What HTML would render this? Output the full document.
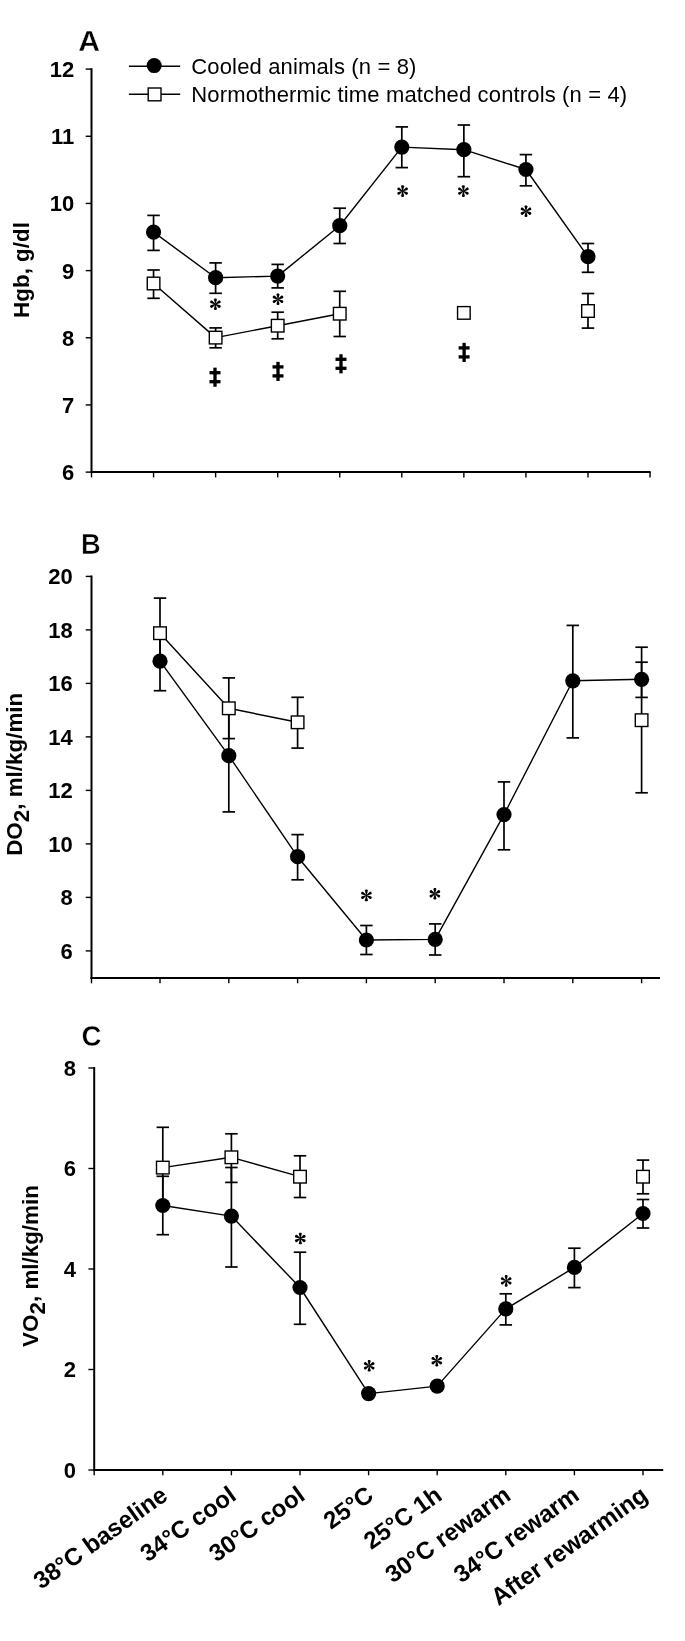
<!DOCTYPE html>
<html>
<head>
<meta charset="utf-8">
<title>Figure</title>
<style>
html, body { margin: 0; padding: 0; background: #ffffff; }
body { width: 685px; height: 1641px; overflow: hidden; font-family: "Liberation Sans", sans-serif; }
svg { display: block; will-change: transform; }
</style>
</head>
<body>
<svg width="685" height="1641" viewBox="0 0 685 1641">
<rect x="0" y="0" width="685" height="1641" fill="#ffffff"/>
<line x1="91.50" y1="68.20" x2="91.50" y2="473.10" stroke="#000" stroke-width="2" />
<line x1="90.50" y1="472.10" x2="650.70" y2="472.10" stroke="#000" stroke-width="2" />
<line x1="85.70" y1="69.10" x2="91.50" y2="69.10" stroke="#000" stroke-width="1.4" />
<text x="74.30" y="77.00" font-family="'Liberation Sans', sans-serif" font-size="22" font-weight="bold" text-anchor="end" fill="#000" >12</text>
<line x1="85.70" y1="136.27" x2="91.50" y2="136.27" stroke="#000" stroke-width="1.4" />
<text x="74.30" y="144.17" font-family="'Liberation Sans', sans-serif" font-size="22" font-weight="bold" text-anchor="end" fill="#000" >11</text>
<line x1="85.70" y1="203.44" x2="91.50" y2="203.44" stroke="#000" stroke-width="1.4" />
<text x="74.30" y="211.34" font-family="'Liberation Sans', sans-serif" font-size="22" font-weight="bold" text-anchor="end" fill="#000" >10</text>
<line x1="85.70" y1="270.61" x2="91.50" y2="270.61" stroke="#000" stroke-width="1.4" />
<text x="74.30" y="278.51" font-family="'Liberation Sans', sans-serif" font-size="22" font-weight="bold" text-anchor="end" fill="#000" >9</text>
<line x1="85.70" y1="337.78" x2="91.50" y2="337.78" stroke="#000" stroke-width="1.4" />
<text x="74.30" y="345.68" font-family="'Liberation Sans', sans-serif" font-size="22" font-weight="bold" text-anchor="end" fill="#000" >8</text>
<line x1="85.70" y1="404.95" x2="91.50" y2="404.95" stroke="#000" stroke-width="1.4" />
<text x="74.30" y="412.85" font-family="'Liberation Sans', sans-serif" font-size="22" font-weight="bold" text-anchor="end" fill="#000" >7</text>
<line x1="85.70" y1="472.12" x2="91.50" y2="472.12" stroke="#000" stroke-width="1.4" />
<text x="74.30" y="480.02" font-family="'Liberation Sans', sans-serif" font-size="22" font-weight="bold" text-anchor="end" fill="#000" >6</text>
<line x1="91.50" y1="472.10" x2="91.50" y2="477.40" stroke="#000" stroke-width="1.4" />
<line x1="153.56" y1="472.10" x2="153.56" y2="477.40" stroke="#000" stroke-width="1.4" />
<line x1="215.62" y1="472.10" x2="215.62" y2="477.40" stroke="#000" stroke-width="1.4" />
<line x1="277.68" y1="472.10" x2="277.68" y2="477.40" stroke="#000" stroke-width="1.4" />
<line x1="339.74" y1="472.10" x2="339.74" y2="477.40" stroke="#000" stroke-width="1.4" />
<line x1="401.80" y1="472.10" x2="401.80" y2="477.40" stroke="#000" stroke-width="1.4" />
<line x1="463.86" y1="472.10" x2="463.86" y2="477.40" stroke="#000" stroke-width="1.4" />
<line x1="525.92" y1="472.10" x2="525.92" y2="477.40" stroke="#000" stroke-width="1.4" />
<line x1="587.98" y1="472.10" x2="587.98" y2="477.40" stroke="#000" stroke-width="1.4" />
<line x1="650.04" y1="472.10" x2="650.04" y2="477.40" stroke="#000" stroke-width="1.4" />
<polyline points="153.56,232.10 215.62,277.70 277.68,276.10 339.74,225.70 401.80,147.10 463.86,149.70 525.92,169.50 587.98,256.70" fill="none" stroke="#000" stroke-width="1.4" stroke-linejoin="round"/>
<polyline points="153.56,283.50 215.62,337.60 277.68,325.70 339.74,313.70" fill="none" stroke="#000" stroke-width="1.4" stroke-linejoin="round"/>
<line x1="153.56" y1="215.40" x2="153.56" y2="250.40" stroke="#000" stroke-width="1.7" />
<line x1="147.31" y1="215.40" x2="159.81" y2="215.40" stroke="#000" stroke-width="1.7" />
<line x1="147.31" y1="250.40" x2="159.81" y2="250.40" stroke="#000" stroke-width="1.7" />
<line x1="215.62" y1="262.90" x2="215.62" y2="293.30" stroke="#000" stroke-width="1.7" />
<line x1="209.37" y1="262.90" x2="221.87" y2="262.90" stroke="#000" stroke-width="1.7" />
<line x1="209.37" y1="293.30" x2="221.87" y2="293.30" stroke="#000" stroke-width="1.7" />
<line x1="277.68" y1="264.40" x2="277.68" y2="287.90" stroke="#000" stroke-width="1.7" />
<line x1="271.43" y1="264.40" x2="283.93" y2="264.40" stroke="#000" stroke-width="1.7" />
<line x1="271.43" y1="287.90" x2="283.93" y2="287.90" stroke="#000" stroke-width="1.7" />
<line x1="339.74" y1="208.20" x2="339.74" y2="243.50" stroke="#000" stroke-width="1.7" />
<line x1="333.49" y1="208.20" x2="345.99" y2="208.20" stroke="#000" stroke-width="1.7" />
<line x1="333.49" y1="243.50" x2="345.99" y2="243.50" stroke="#000" stroke-width="1.7" />
<line x1="401.80" y1="126.90" x2="401.80" y2="167.60" stroke="#000" stroke-width="1.7" />
<line x1="395.55" y1="126.90" x2="408.05" y2="126.90" stroke="#000" stroke-width="1.7" />
<line x1="395.55" y1="167.60" x2="408.05" y2="167.60" stroke="#000" stroke-width="1.7" />
<line x1="463.86" y1="125.00" x2="463.86" y2="176.70" stroke="#000" stroke-width="1.7" />
<line x1="457.61" y1="125.00" x2="470.11" y2="125.00" stroke="#000" stroke-width="1.7" />
<line x1="457.61" y1="176.70" x2="470.11" y2="176.70" stroke="#000" stroke-width="1.7" />
<line x1="525.92" y1="154.60" x2="525.92" y2="185.80" stroke="#000" stroke-width="1.7" />
<line x1="519.67" y1="154.60" x2="532.17" y2="154.60" stroke="#000" stroke-width="1.7" />
<line x1="519.67" y1="185.80" x2="532.17" y2="185.80" stroke="#000" stroke-width="1.7" />
<line x1="587.98" y1="243.50" x2="587.98" y2="272.30" stroke="#000" stroke-width="1.7" />
<line x1="581.73" y1="243.50" x2="594.23" y2="243.50" stroke="#000" stroke-width="1.7" />
<line x1="581.73" y1="272.30" x2="594.23" y2="272.30" stroke="#000" stroke-width="1.7" />
<line x1="153.56" y1="270.00" x2="153.56" y2="298.30" stroke="#000" stroke-width="1.7" />
<line x1="147.31" y1="270.00" x2="159.81" y2="270.00" stroke="#000" stroke-width="1.7" />
<line x1="147.31" y1="298.30" x2="159.81" y2="298.30" stroke="#000" stroke-width="1.7" />
<line x1="215.62" y1="327.90" x2="215.62" y2="347.80" stroke="#000" stroke-width="1.7" />
<line x1="209.37" y1="327.90" x2="221.87" y2="327.90" stroke="#000" stroke-width="1.7" />
<line x1="209.37" y1="347.80" x2="221.87" y2="347.80" stroke="#000" stroke-width="1.7" />
<line x1="277.68" y1="312.20" x2="277.68" y2="338.80" stroke="#000" stroke-width="1.7" />
<line x1="271.43" y1="312.20" x2="283.93" y2="312.20" stroke="#000" stroke-width="1.7" />
<line x1="271.43" y1="338.80" x2="283.93" y2="338.80" stroke="#000" stroke-width="1.7" />
<line x1="339.74" y1="291.30" x2="339.74" y2="336.50" stroke="#000" stroke-width="1.7" />
<line x1="333.49" y1="291.30" x2="345.99" y2="291.30" stroke="#000" stroke-width="1.7" />
<line x1="333.49" y1="336.50" x2="345.99" y2="336.50" stroke="#000" stroke-width="1.7" />
<line x1="587.98" y1="293.50" x2="587.98" y2="328.10" stroke="#000" stroke-width="1.7" />
<line x1="581.73" y1="293.50" x2="594.23" y2="293.50" stroke="#000" stroke-width="1.7" />
<line x1="581.73" y1="328.10" x2="594.23" y2="328.10" stroke="#000" stroke-width="1.7" />
<circle cx="153.56" cy="232.10" r="7.6" fill="#000"/>
<circle cx="215.62" cy="277.70" r="7.6" fill="#000"/>
<circle cx="277.68" cy="276.10" r="7.6" fill="#000"/>
<circle cx="339.74" cy="225.70" r="7.6" fill="#000"/>
<circle cx="401.80" cy="147.10" r="7.6" fill="#000"/>
<circle cx="463.86" cy="149.70" r="7.6" fill="#000"/>
<circle cx="525.92" cy="169.50" r="7.6" fill="#000"/>
<circle cx="587.98" cy="256.70" r="7.6" fill="#000"/>
<rect x="147.26" y="277.20" width="12.6" height="12.6" fill="#fff" stroke="#000" stroke-width="1.4"/>
<rect x="209.32" y="331.30" width="12.6" height="12.6" fill="#fff" stroke="#000" stroke-width="1.4"/>
<rect x="271.38" y="319.40" width="12.6" height="12.6" fill="#fff" stroke="#000" stroke-width="1.4"/>
<rect x="333.44" y="307.40" width="12.6" height="12.6" fill="#fff" stroke="#000" stroke-width="1.4"/>
<rect x="457.56" y="306.60" width="12.6" height="12.6" fill="#fff" stroke="#000" stroke-width="1.4"/>
<rect x="581.68" y="304.70" width="12.6" height="12.6" fill="#fff" stroke="#000" stroke-width="1.4"/>
<polygon points="215.85,303.60 216.90,299.40 216.22,298.40 214.58,298.40 213.90,299.40 214.95,303.60" fill="#000"/>
<polygon points="215.11,303.51 211.99,300.50 210.79,300.59 209.96,302.01 210.49,303.10 214.66,304.29" fill="#000"/>
<polygon points="214.66,304.11 210.49,305.30 209.96,306.39 210.79,307.81 211.99,307.90 215.11,304.89" fill="#000"/>
<polygon points="214.95,304.80 213.90,309.00 214.58,310.00 216.22,310.00 216.90,309.00 215.85,304.80" fill="#000"/>
<polygon points="215.69,304.89 218.81,307.90 220.01,307.81 220.84,306.39 220.31,305.30 216.14,304.11" fill="#000"/>
<polygon points="216.14,304.29 220.31,303.10 220.84,302.01 220.01,300.59 218.81,300.50 215.69,303.51" fill="#000"/>
<circle cx="215.40" cy="304.20" r="0.9" fill="#000"/>
<polygon points="278.45,298.70 279.50,294.50 278.82,293.50 277.18,293.50 276.50,294.50 277.55,298.70" fill="#000"/>
<polygon points="277.71,298.61 274.59,295.60 273.39,295.69 272.56,297.11 273.09,298.20 277.26,299.39" fill="#000"/>
<polygon points="277.26,299.21 273.09,300.40 272.56,301.49 273.39,302.91 274.59,303.00 277.71,299.99" fill="#000"/>
<polygon points="277.55,299.90 276.50,304.10 277.18,305.10 278.82,305.10 279.50,304.10 278.45,299.90" fill="#000"/>
<polygon points="278.29,299.99 281.41,303.00 282.61,302.91 283.44,301.49 282.91,300.40 278.74,299.21" fill="#000"/>
<polygon points="278.74,299.39 282.91,298.20 283.44,297.11 282.61,295.69 281.41,295.60 278.29,298.61" fill="#000"/>
<circle cx="278.00" cy="299.30" r="0.9" fill="#000"/>
<polygon points="403.05,190.50 404.10,186.30 403.43,185.30 401.78,185.30 401.10,186.30 402.15,190.50" fill="#000"/>
<polygon points="402.31,190.41 399.19,187.40 397.99,187.49 397.16,188.91 397.69,190.00 401.86,191.19" fill="#000"/>
<polygon points="401.86,191.01 397.69,192.20 397.16,193.29 397.99,194.71 399.19,194.80 402.31,191.79" fill="#000"/>
<polygon points="402.15,191.70 401.10,195.90 401.78,196.90 403.43,196.90 404.10,195.90 403.05,191.70" fill="#000"/>
<polygon points="402.89,191.79 406.01,194.80 407.21,194.71 408.04,193.29 407.51,192.20 403.34,191.01" fill="#000"/>
<polygon points="403.34,191.19 407.51,190.00 408.04,188.91 407.21,187.49 406.01,187.40 402.89,190.41" fill="#000"/>
<circle cx="402.60" cy="191.10" r="0.9" fill="#000"/>
<polygon points="463.85,190.50 464.90,186.30 464.22,185.30 462.57,185.30 461.90,186.30 462.95,190.50" fill="#000"/>
<polygon points="463.11,190.41 459.99,187.40 458.79,187.49 457.96,188.91 458.49,190.00 462.66,191.19" fill="#000"/>
<polygon points="462.66,191.01 458.49,192.20 457.96,193.29 458.79,194.71 459.99,194.80 463.11,191.79" fill="#000"/>
<polygon points="462.95,191.70 461.90,195.90 462.57,196.90 464.22,196.90 464.90,195.90 463.85,191.70" fill="#000"/>
<polygon points="463.69,191.79 466.81,194.80 468.01,194.71 468.84,193.29 468.31,192.20 464.14,191.01" fill="#000"/>
<polygon points="464.14,191.19 468.31,190.00 468.84,188.91 468.01,187.49 466.81,187.40 463.69,190.41" fill="#000"/>
<circle cx="463.40" cy="191.10" r="0.9" fill="#000"/>
<polygon points="526.45,210.60 527.50,206.40 526.83,205.40 525.17,205.40 524.50,206.40 525.55,210.60" fill="#000"/>
<polygon points="525.71,210.51 522.59,207.50 521.39,207.59 520.56,209.01 521.09,210.10 525.26,211.29" fill="#000"/>
<polygon points="525.26,211.11 521.09,212.30 520.56,213.39 521.39,214.81 522.59,214.90 525.71,211.89" fill="#000"/>
<polygon points="525.55,211.80 524.50,216.00 525.17,217.00 526.83,217.00 527.50,216.00 526.45,211.80" fill="#000"/>
<polygon points="526.29,211.89 529.41,214.90 530.61,214.81 531.44,213.39 530.91,212.30 526.74,211.11" fill="#000"/>
<polygon points="526.74,211.29 530.91,210.10 531.44,209.01 530.61,207.59 529.41,207.50 526.29,210.51" fill="#000"/>
<circle cx="526.00" cy="211.20" r="0.9" fill="#000"/>
<rect x="213.35" y="367.65" width="3.3" height="19.10" fill="#000"/>
<rect x="209.50" y="371.05" width="11" height="3.3" fill="#000"/>
<rect x="209.50" y="380.05" width="11" height="3.3" fill="#000"/>
<rect x="276.35" y="361.85" width="3.3" height="19.10" fill="#000"/>
<rect x="272.50" y="365.25" width="11" height="3.3" fill="#000"/>
<rect x="272.50" y="374.25" width="11" height="3.3" fill="#000"/>
<rect x="339.35" y="354.25" width="3.3" height="19.10" fill="#000"/>
<rect x="335.50" y="357.65" width="11" height="3.3" fill="#000"/>
<rect x="335.50" y="366.65" width="11" height="3.3" fill="#000"/>
<rect x="462.45" y="342.85" width="3.3" height="19.10" fill="#000"/>
<rect x="458.60" y="346.25" width="11" height="3.3" fill="#000"/>
<rect x="458.60" y="355.25" width="11" height="3.3" fill="#000"/>
<line x1="128.90" y1="66.20" x2="180.20" y2="66.20" stroke="#000" stroke-width="1.4" />
<circle cx="154.20" cy="65.60" r="7.5" fill="#000"/>
<line x1="128.90" y1="94.20" x2="180.20" y2="94.20" stroke="#000" stroke-width="1.4" />
<rect x="148.20" y="88.00" width="12.8" height="12.8" fill="#fff" stroke="#000" stroke-width="1.4"/>
<text x="191.30" y="74.20" font-family="'Liberation Sans', sans-serif" font-size="22" font-weight="normal" text-anchor="start" fill="#000" letter-spacing="0.15">Cooled animals (n = 8)</text>
<text x="191.30" y="101.70" font-family="'Liberation Sans', sans-serif" font-size="22" font-weight="normal" text-anchor="start" fill="#000" letter-spacing="0.15">Normothermic time matched controls (n = 4)</text>
<text transform="translate(78.2,50.7) scale(1.04,1)" font-family="'Liberation Sans', sans-serif" font-size="29" font-weight="bold" fill="#000" stroke="#fff" stroke-width="0.35">A</text>
<text transform="translate(28.6,270) rotate(-90)" font-family="'Liberation Sans', sans-serif" font-size="22.4" font-weight="bold" text-anchor="middle" fill="#000">Hgb, g/dl</text>
<line x1="91.50" y1="575.50" x2="91.50" y2="979.00" stroke="#000" stroke-width="2" />
<line x1="90.50" y1="978.00" x2="660.00" y2="978.00" stroke="#000" stroke-width="2" />
<line x1="85.70" y1="576.40" x2="91.50" y2="576.40" stroke="#000" stroke-width="1.4" />
<text x="72.70" y="584.30" font-family="'Liberation Sans', sans-serif" font-size="22" font-weight="bold" text-anchor="end" fill="#000" >20</text>
<line x1="85.70" y1="629.90" x2="91.50" y2="629.90" stroke="#000" stroke-width="1.4" />
<text x="72.70" y="637.80" font-family="'Liberation Sans', sans-serif" font-size="22" font-weight="bold" text-anchor="end" fill="#000" >18</text>
<line x1="85.70" y1="683.40" x2="91.50" y2="683.40" stroke="#000" stroke-width="1.4" />
<text x="72.70" y="691.30" font-family="'Liberation Sans', sans-serif" font-size="22" font-weight="bold" text-anchor="end" fill="#000" >16</text>
<line x1="85.70" y1="736.90" x2="91.50" y2="736.90" stroke="#000" stroke-width="1.4" />
<text x="72.70" y="744.80" font-family="'Liberation Sans', sans-serif" font-size="22" font-weight="bold" text-anchor="end" fill="#000" >14</text>
<line x1="85.70" y1="790.40" x2="91.50" y2="790.40" stroke="#000" stroke-width="1.4" />
<text x="72.70" y="798.30" font-family="'Liberation Sans', sans-serif" font-size="22" font-weight="bold" text-anchor="end" fill="#000" >12</text>
<line x1="85.70" y1="843.90" x2="91.50" y2="843.90" stroke="#000" stroke-width="1.4" />
<text x="72.70" y="851.80" font-family="'Liberation Sans', sans-serif" font-size="22" font-weight="bold" text-anchor="end" fill="#000" >10</text>
<line x1="85.70" y1="897.40" x2="91.50" y2="897.40" stroke="#000" stroke-width="1.4" />
<text x="72.70" y="905.30" font-family="'Liberation Sans', sans-serif" font-size="22" font-weight="bold" text-anchor="end" fill="#000" >8</text>
<line x1="85.70" y1="950.90" x2="91.50" y2="950.90" stroke="#000" stroke-width="1.4" />
<text x="72.70" y="958.80" font-family="'Liberation Sans', sans-serif" font-size="22" font-weight="bold" text-anchor="end" fill="#000" >6</text>
<line x1="91.50" y1="978.00" x2="91.50" y2="983.30" stroke="#000" stroke-width="1.4" />
<line x1="160.00" y1="978.00" x2="160.00" y2="983.30" stroke="#000" stroke-width="1.4" />
<line x1="228.80" y1="978.00" x2="228.80" y2="983.30" stroke="#000" stroke-width="1.4" />
<line x1="297.60" y1="978.00" x2="297.60" y2="983.30" stroke="#000" stroke-width="1.4" />
<line x1="366.40" y1="978.00" x2="366.40" y2="983.30" stroke="#000" stroke-width="1.4" />
<line x1="435.20" y1="978.00" x2="435.20" y2="983.30" stroke="#000" stroke-width="1.4" />
<line x1="504.00" y1="978.00" x2="504.00" y2="983.30" stroke="#000" stroke-width="1.4" />
<line x1="572.80" y1="978.00" x2="572.80" y2="983.30" stroke="#000" stroke-width="1.4" />
<line x1="641.60" y1="978.00" x2="641.60" y2="983.30" stroke="#000" stroke-width="1.4" />
<polyline points="160.00,661.20 228.80,755.70 297.60,856.70 366.40,940.00 435.20,939.40 504.00,814.60 572.80,680.80 641.60,679.30" fill="none" stroke="#000" stroke-width="1.4" stroke-linejoin="round"/>
<polyline points="160.00,633.20 228.80,708.30 297.60,722.30" fill="none" stroke="#000" stroke-width="1.4" stroke-linejoin="round"/>
<line x1="160.00" y1="633.00" x2="160.00" y2="690.70" stroke="#000" stroke-width="1.7" />
<line x1="153.75" y1="633.00" x2="166.25" y2="633.00" stroke="#000" stroke-width="1.7" />
<line x1="153.75" y1="690.70" x2="166.25" y2="690.70" stroke="#000" stroke-width="1.7" />
<line x1="228.80" y1="708.00" x2="228.80" y2="811.90" stroke="#000" stroke-width="1.7" />
<line x1="222.55" y1="708.00" x2="235.05" y2="708.00" stroke="#000" stroke-width="1.7" />
<line x1="222.55" y1="811.90" x2="235.05" y2="811.90" stroke="#000" stroke-width="1.7" />
<line x1="297.60" y1="834.60" x2="297.60" y2="879.80" stroke="#000" stroke-width="1.7" />
<line x1="291.35" y1="834.60" x2="303.85" y2="834.60" stroke="#000" stroke-width="1.7" />
<line x1="291.35" y1="879.80" x2="303.85" y2="879.80" stroke="#000" stroke-width="1.7" />
<line x1="366.40" y1="925.50" x2="366.40" y2="954.50" stroke="#000" stroke-width="1.7" />
<line x1="360.15" y1="925.50" x2="372.65" y2="925.50" stroke="#000" stroke-width="1.7" />
<line x1="360.15" y1="954.50" x2="372.65" y2="954.50" stroke="#000" stroke-width="1.7" />
<line x1="435.20" y1="923.90" x2="435.20" y2="955.00" stroke="#000" stroke-width="1.7" />
<line x1="428.95" y1="923.90" x2="441.45" y2="923.90" stroke="#000" stroke-width="1.7" />
<line x1="428.95" y1="955.00" x2="441.45" y2="955.00" stroke="#000" stroke-width="1.7" />
<line x1="504.00" y1="781.90" x2="504.00" y2="849.80" stroke="#000" stroke-width="1.7" />
<line x1="497.75" y1="781.90" x2="510.25" y2="781.90" stroke="#000" stroke-width="1.7" />
<line x1="497.75" y1="849.80" x2="510.25" y2="849.80" stroke="#000" stroke-width="1.7" />
<line x1="572.80" y1="625.40" x2="572.80" y2="737.90" stroke="#000" stroke-width="1.7" />
<line x1="566.55" y1="625.40" x2="579.05" y2="625.40" stroke="#000" stroke-width="1.7" />
<line x1="566.55" y1="737.90" x2="579.05" y2="737.90" stroke="#000" stroke-width="1.7" />
<line x1="641.60" y1="662.20" x2="641.60" y2="697.40" stroke="#000" stroke-width="1.7" />
<line x1="635.35" y1="662.20" x2="647.85" y2="662.20" stroke="#000" stroke-width="1.7" />
<line x1="635.35" y1="697.40" x2="647.85" y2="697.40" stroke="#000" stroke-width="1.7" />
<line x1="160.00" y1="598.10" x2="160.00" y2="661.20" stroke="#000" stroke-width="1.7" />
<line x1="153.75" y1="598.10" x2="166.25" y2="598.10" stroke="#000" stroke-width="1.7" />
<line x1="153.75" y1="661.20" x2="166.25" y2="661.20" stroke="#000" stroke-width="1.7" />
<line x1="228.80" y1="677.90" x2="228.80" y2="738.60" stroke="#000" stroke-width="1.7" />
<line x1="222.55" y1="677.90" x2="235.05" y2="677.90" stroke="#000" stroke-width="1.7" />
<line x1="222.55" y1="738.60" x2="235.05" y2="738.60" stroke="#000" stroke-width="1.7" />
<line x1="297.60" y1="697.30" x2="297.60" y2="748.10" stroke="#000" stroke-width="1.7" />
<line x1="291.35" y1="697.30" x2="303.85" y2="697.30" stroke="#000" stroke-width="1.7" />
<line x1="291.35" y1="748.10" x2="303.85" y2="748.10" stroke="#000" stroke-width="1.7" />
<line x1="641.60" y1="647.20" x2="641.60" y2="792.80" stroke="#000" stroke-width="1.7" />
<line x1="635.35" y1="647.20" x2="647.85" y2="647.20" stroke="#000" stroke-width="1.7" />
<line x1="635.35" y1="792.80" x2="647.85" y2="792.80" stroke="#000" stroke-width="1.7" />
<circle cx="160.00" cy="661.20" r="7.6" fill="#000"/>
<circle cx="228.80" cy="755.70" r="7.6" fill="#000"/>
<circle cx="297.60" cy="856.70" r="7.6" fill="#000"/>
<circle cx="366.40" cy="940.00" r="7.6" fill="#000"/>
<circle cx="435.20" cy="939.40" r="7.6" fill="#000"/>
<circle cx="504.00" cy="814.60" r="7.6" fill="#000"/>
<circle cx="572.80" cy="680.80" r="7.6" fill="#000"/>
<circle cx="641.60" cy="679.30" r="7.6" fill="#000"/>
<rect x="153.70" y="626.90" width="12.6" height="12.6" fill="#fff" stroke="#000" stroke-width="1.4"/>
<rect x="222.50" y="702.00" width="12.6" height="12.6" fill="#fff" stroke="#000" stroke-width="1.4"/>
<rect x="291.30" y="716.00" width="12.6" height="12.6" fill="#fff" stroke="#000" stroke-width="1.4"/>
<rect x="635.30" y="713.90" width="12.6" height="12.6" fill="#fff" stroke="#000" stroke-width="1.4"/>
<polygon points="366.85,894.80 367.90,890.60 367.22,889.60 365.57,889.60 364.90,890.60 365.95,894.80" fill="#000"/>
<polygon points="366.11,894.71 362.99,891.70 361.79,891.79 360.96,893.21 361.49,894.30 365.66,895.49" fill="#000"/>
<polygon points="365.66,895.31 361.49,896.50 360.96,897.59 361.79,899.01 362.99,899.10 366.11,896.09" fill="#000"/>
<polygon points="365.95,896.00 364.90,900.20 365.57,901.20 367.22,901.20 367.90,900.20 366.85,896.00" fill="#000"/>
<polygon points="366.69,896.09 369.81,899.10 371.01,899.01 371.84,897.59 371.31,896.50 367.14,895.31" fill="#000"/>
<polygon points="367.14,895.49 371.31,894.30 371.84,893.21 371.01,891.79 369.81,891.70 366.69,894.71" fill="#000"/>
<circle cx="366.40" cy="895.40" r="0.9" fill="#000"/>
<polygon points="435.35,893.20 436.40,889.00 435.72,888.00 434.07,888.00 433.40,889.00 434.45,893.20" fill="#000"/>
<polygon points="434.61,893.11 431.49,890.10 430.29,890.19 429.46,891.61 429.99,892.70 434.16,893.89" fill="#000"/>
<polygon points="434.16,893.71 429.99,894.90 429.46,895.99 430.29,897.41 431.49,897.50 434.61,894.49" fill="#000"/>
<polygon points="434.45,894.40 433.40,898.60 434.07,899.60 435.72,899.60 436.40,898.60 435.35,894.40" fill="#000"/>
<polygon points="435.19,894.49 438.31,897.50 439.51,897.41 440.34,895.99 439.81,894.90 435.64,893.71" fill="#000"/>
<polygon points="435.64,893.89 439.81,892.70 440.34,891.61 439.51,890.19 438.31,890.10 435.19,893.11" fill="#000"/>
<circle cx="434.90" cy="893.80" r="0.9" fill="#000"/>
<text transform="translate(80.9,553.7) scale(0.93,1)" font-family="'Liberation Sans', sans-serif" font-size="29.3" font-weight="bold" fill="#000" stroke="#fff" stroke-width="0.5">B</text>
<text transform="translate(22.2,774.3) rotate(-90)" font-family="'Liberation Sans', sans-serif" font-size="22.4" font-weight="bold" text-anchor="middle" fill="#000">DO<tspan dy="7.2">2</tspan><tspan dy="-7.2">, ml/kg/min</tspan></text>
<line x1="94.20" y1="1067.10" x2="94.20" y2="1471.00" stroke="#000" stroke-width="2" />
<line x1="93.20" y1="1470.00" x2="663.20" y2="1470.00" stroke="#000" stroke-width="2" />
<line x1="88.40" y1="1068.00" x2="94.20" y2="1068.00" stroke="#000" stroke-width="1.4" />
<text x="76.00" y="1075.90" font-family="'Liberation Sans', sans-serif" font-size="22" font-weight="bold" text-anchor="end" fill="#000" >8</text>
<line x1="88.40" y1="1168.50" x2="94.20" y2="1168.50" stroke="#000" stroke-width="1.4" />
<text x="76.00" y="1176.40" font-family="'Liberation Sans', sans-serif" font-size="22" font-weight="bold" text-anchor="end" fill="#000" >6</text>
<line x1="88.40" y1="1269.00" x2="94.20" y2="1269.00" stroke="#000" stroke-width="1.4" />
<text x="76.00" y="1276.90" font-family="'Liberation Sans', sans-serif" font-size="22" font-weight="bold" text-anchor="end" fill="#000" >4</text>
<line x1="88.40" y1="1369.50" x2="94.20" y2="1369.50" stroke="#000" stroke-width="1.4" />
<text x="76.00" y="1377.40" font-family="'Liberation Sans', sans-serif" font-size="22" font-weight="bold" text-anchor="end" fill="#000" >2</text>
<line x1="88.40" y1="1470.00" x2="94.20" y2="1470.00" stroke="#000" stroke-width="1.4" />
<text x="76.00" y="1477.90" font-family="'Liberation Sans', sans-serif" font-size="22" font-weight="bold" text-anchor="end" fill="#000" >0</text>
<line x1="94.20" y1="1470.00" x2="94.20" y2="1475.30" stroke="#000" stroke-width="1.4" />
<line x1="162.80" y1="1470.00" x2="162.80" y2="1475.30" stroke="#000" stroke-width="1.4" />
<line x1="231.40" y1="1470.00" x2="231.40" y2="1475.30" stroke="#000" stroke-width="1.4" />
<line x1="300.00" y1="1470.00" x2="300.00" y2="1475.30" stroke="#000" stroke-width="1.4" />
<line x1="368.60" y1="1470.00" x2="368.60" y2="1475.30" stroke="#000" stroke-width="1.4" />
<line x1="437.20" y1="1470.00" x2="437.20" y2="1475.30" stroke="#000" stroke-width="1.4" />
<line x1="505.80" y1="1470.00" x2="505.80" y2="1475.30" stroke="#000" stroke-width="1.4" />
<line x1="574.40" y1="1470.00" x2="574.40" y2="1475.30" stroke="#000" stroke-width="1.4" />
<line x1="643.00" y1="1470.00" x2="643.00" y2="1475.30" stroke="#000" stroke-width="1.4" />
<polyline points="162.80,1205.50 231.40,1216.10 300.00,1287.50 368.60,1393.60 437.20,1386.10 505.80,1308.90 574.40,1267.40 643.00,1213.50" fill="none" stroke="#000" stroke-width="1.4" stroke-linejoin="round"/>
<polyline points="162.80,1167.60 231.40,1157.30 300.00,1176.70" fill="none" stroke="#000" stroke-width="1.4" stroke-linejoin="round"/>
<line x1="162.80" y1="1176.30" x2="162.80" y2="1234.70" stroke="#000" stroke-width="1.7" />
<line x1="156.55" y1="1176.30" x2="169.05" y2="1176.30" stroke="#000" stroke-width="1.7" />
<line x1="156.55" y1="1234.70" x2="169.05" y2="1234.70" stroke="#000" stroke-width="1.7" />
<line x1="231.40" y1="1167.50" x2="231.40" y2="1267.00" stroke="#000" stroke-width="1.7" />
<line x1="225.15" y1="1167.50" x2="237.65" y2="1167.50" stroke="#000" stroke-width="1.7" />
<line x1="225.15" y1="1267.00" x2="237.65" y2="1267.00" stroke="#000" stroke-width="1.7" />
<line x1="300.00" y1="1252.20" x2="300.00" y2="1324.30" stroke="#000" stroke-width="1.7" />
<line x1="293.75" y1="1252.20" x2="306.25" y2="1252.20" stroke="#000" stroke-width="1.7" />
<line x1="293.75" y1="1324.30" x2="306.25" y2="1324.30" stroke="#000" stroke-width="1.7" />
<line x1="368.60" y1="1390.50" x2="368.60" y2="1396.70" stroke="#000" stroke-width="1.7" />
<line x1="362.35" y1="1390.50" x2="374.85" y2="1390.50" stroke="#000" stroke-width="1.7" />
<line x1="362.35" y1="1396.70" x2="374.85" y2="1396.70" stroke="#000" stroke-width="1.7" />
<line x1="437.20" y1="1383.00" x2="437.20" y2="1389.20" stroke="#000" stroke-width="1.7" />
<line x1="430.95" y1="1383.00" x2="443.45" y2="1383.00" stroke="#000" stroke-width="1.7" />
<line x1="430.95" y1="1389.20" x2="443.45" y2="1389.20" stroke="#000" stroke-width="1.7" />
<line x1="505.80" y1="1293.80" x2="505.80" y2="1324.90" stroke="#000" stroke-width="1.7" />
<line x1="499.55" y1="1293.80" x2="512.05" y2="1293.80" stroke="#000" stroke-width="1.7" />
<line x1="499.55" y1="1324.90" x2="512.05" y2="1324.90" stroke="#000" stroke-width="1.7" />
<line x1="574.40" y1="1248.20" x2="574.40" y2="1287.60" stroke="#000" stroke-width="1.7" />
<line x1="568.15" y1="1248.20" x2="580.65" y2="1248.20" stroke="#000" stroke-width="1.7" />
<line x1="568.15" y1="1287.60" x2="580.65" y2="1287.60" stroke="#000" stroke-width="1.7" />
<line x1="643.00" y1="1199.50" x2="643.00" y2="1228.00" stroke="#000" stroke-width="1.7" />
<line x1="636.75" y1="1199.50" x2="649.25" y2="1199.50" stroke="#000" stroke-width="1.7" />
<line x1="636.75" y1="1228.00" x2="649.25" y2="1228.00" stroke="#000" stroke-width="1.7" />
<line x1="162.80" y1="1127.30" x2="162.80" y2="1207.90" stroke="#000" stroke-width="1.7" />
<line x1="156.55" y1="1127.30" x2="169.05" y2="1127.30" stroke="#000" stroke-width="1.7" />
<line x1="156.55" y1="1207.90" x2="169.05" y2="1207.90" stroke="#000" stroke-width="1.7" />
<line x1="231.40" y1="1133.80" x2="231.40" y2="1182.40" stroke="#000" stroke-width="1.7" />
<line x1="225.15" y1="1133.80" x2="237.65" y2="1133.80" stroke="#000" stroke-width="1.7" />
<line x1="225.15" y1="1182.40" x2="237.65" y2="1182.40" stroke="#000" stroke-width="1.7" />
<line x1="300.00" y1="1155.80" x2="300.00" y2="1197.50" stroke="#000" stroke-width="1.7" />
<line x1="293.75" y1="1155.80" x2="306.25" y2="1155.80" stroke="#000" stroke-width="1.7" />
<line x1="293.75" y1="1197.50" x2="306.25" y2="1197.50" stroke="#000" stroke-width="1.7" />
<line x1="643.00" y1="1160.10" x2="643.00" y2="1193.80" stroke="#000" stroke-width="1.7" />
<line x1="636.75" y1="1160.10" x2="649.25" y2="1160.10" stroke="#000" stroke-width="1.7" />
<line x1="636.75" y1="1193.80" x2="649.25" y2="1193.80" stroke="#000" stroke-width="1.7" />
<circle cx="162.80" cy="1205.50" r="7.6" fill="#000"/>
<circle cx="231.40" cy="1216.10" r="7.6" fill="#000"/>
<circle cx="300.00" cy="1287.50" r="7.6" fill="#000"/>
<circle cx="368.60" cy="1393.60" r="7.6" fill="#000"/>
<circle cx="437.20" cy="1386.10" r="7.6" fill="#000"/>
<circle cx="505.80" cy="1308.90" r="7.6" fill="#000"/>
<circle cx="574.40" cy="1267.40" r="7.6" fill="#000"/>
<circle cx="643.00" cy="1213.50" r="7.6" fill="#000"/>
<rect x="156.50" y="1161.30" width="12.6" height="12.6" fill="#fff" stroke="#000" stroke-width="1.4"/>
<rect x="225.10" y="1151.00" width="12.6" height="12.6" fill="#fff" stroke="#000" stroke-width="1.4"/>
<rect x="293.70" y="1170.40" width="12.6" height="12.6" fill="#fff" stroke="#000" stroke-width="1.4"/>
<rect x="636.70" y="1170.40" width="12.6" height="12.6" fill="#fff" stroke="#000" stroke-width="1.4"/>
<polygon points="300.75,1237.90 301.80,1233.70 301.12,1232.70 299.48,1232.70 298.80,1233.70 299.85,1237.90" fill="#000"/>
<polygon points="300.01,1237.81 296.89,1234.80 295.69,1234.89 294.86,1236.31 295.39,1237.40 299.56,1238.59" fill="#000"/>
<polygon points="299.56,1238.41 295.39,1239.60 294.86,1240.69 295.69,1242.11 296.89,1242.20 300.01,1239.19" fill="#000"/>
<polygon points="299.85,1239.10 298.80,1243.30 299.48,1244.30 301.12,1244.30 301.80,1243.30 300.75,1239.10" fill="#000"/>
<polygon points="300.59,1239.19 303.71,1242.20 304.91,1242.11 305.74,1240.69 305.21,1239.60 301.04,1238.41" fill="#000"/>
<polygon points="301.04,1238.59 305.21,1237.40 305.74,1236.31 304.91,1234.89 303.71,1234.80 300.59,1237.81" fill="#000"/>
<circle cx="300.30" cy="1238.50" r="0.9" fill="#000"/>
<polygon points="369.65,1365.20 370.70,1361.00 370.02,1360.00 368.38,1360.00 367.70,1361.00 368.75,1365.20" fill="#000"/>
<polygon points="368.91,1365.11 365.79,1362.10 364.59,1362.19 363.76,1363.61 364.29,1364.70 368.46,1365.89" fill="#000"/>
<polygon points="368.46,1365.71 364.29,1366.90 363.76,1367.99 364.59,1369.41 365.79,1369.50 368.91,1366.49" fill="#000"/>
<polygon points="368.75,1366.40 367.70,1370.60 368.38,1371.60 370.02,1371.60 370.70,1370.60 369.65,1366.40" fill="#000"/>
<polygon points="369.49,1366.49 372.61,1369.50 373.81,1369.41 374.64,1367.99 374.11,1366.90 369.94,1365.71" fill="#000"/>
<polygon points="369.94,1365.89 374.11,1364.70 374.64,1363.61 373.81,1362.19 372.61,1362.10 369.49,1365.11" fill="#000"/>
<circle cx="369.20" cy="1365.80" r="0.9" fill="#000"/>
<polygon points="437.25,1360.10 438.30,1355.90 437.62,1354.90 435.98,1354.90 435.30,1355.90 436.35,1360.10" fill="#000"/>
<polygon points="436.51,1360.01 433.39,1357.00 432.19,1357.09 431.36,1358.51 431.89,1359.60 436.06,1360.79" fill="#000"/>
<polygon points="436.06,1360.61 431.89,1361.80 431.36,1362.89 432.19,1364.31 433.39,1364.40 436.51,1361.39" fill="#000"/>
<polygon points="436.35,1361.30 435.30,1365.50 435.98,1366.50 437.62,1366.50 438.30,1365.50 437.25,1361.30" fill="#000"/>
<polygon points="437.09,1361.39 440.21,1364.40 441.41,1364.31 442.24,1362.89 441.71,1361.80 437.54,1360.61" fill="#000"/>
<polygon points="437.54,1360.79 441.71,1359.60 442.24,1358.51 441.41,1357.09 440.21,1357.00 437.09,1360.01" fill="#000"/>
<circle cx="436.80" cy="1360.70" r="0.9" fill="#000"/>
<polygon points="506.65,1280.30 507.70,1276.10 507.02,1275.10 505.38,1275.10 504.70,1276.10 505.75,1280.30" fill="#000"/>
<polygon points="505.91,1280.21 502.79,1277.20 501.59,1277.29 500.76,1278.71 501.29,1279.80 505.46,1280.99" fill="#000"/>
<polygon points="505.46,1280.81 501.29,1282.00 500.76,1283.09 501.59,1284.51 502.79,1284.60 505.91,1281.59" fill="#000"/>
<polygon points="505.75,1281.50 504.70,1285.70 505.38,1286.70 507.02,1286.70 507.70,1285.70 506.65,1281.50" fill="#000"/>
<polygon points="506.49,1281.59 509.61,1284.60 510.81,1284.51 511.64,1283.09 511.11,1282.00 506.94,1280.81" fill="#000"/>
<polygon points="506.94,1280.99 511.11,1279.80 511.64,1278.71 510.81,1277.29 509.61,1277.20 506.49,1280.21" fill="#000"/>
<circle cx="506.20" cy="1280.90" r="0.9" fill="#000"/>
<text transform="translate(81.5,1045.8) scale(0.93,1)" font-family="'Liberation Sans', sans-serif" font-size="29.8" font-weight="bold" fill="#000" stroke="#fff" stroke-width="0.45">C</text>
<text transform="translate(37.6,1266.0) rotate(-90)" font-family="'Liberation Sans', sans-serif" font-size="22.4" font-weight="bold" text-anchor="middle" fill="#000">VO<tspan dy="7.2">2</tspan><tspan dy="-7.2">, ml/kg/min</tspan></text>
<text transform="translate(169.20,1498.6) rotate(-35.5)" font-family="'Liberation Sans', sans-serif" font-size="24.2" font-weight="bold" text-anchor="end" fill="#000">38°C baseline</text>
<text transform="translate(237.80,1498.6) rotate(-35.5)" font-family="'Liberation Sans', sans-serif" font-size="24.2" font-weight="bold" text-anchor="end" fill="#000">34°C cool</text>
<text transform="translate(306.40,1498.6) rotate(-35.5)" font-family="'Liberation Sans', sans-serif" font-size="24.2" font-weight="bold" text-anchor="end" fill="#000">30°C cool</text>
<text transform="translate(375.00,1498.6) rotate(-35.5)" font-family="'Liberation Sans', sans-serif" font-size="24.2" font-weight="bold" text-anchor="end" fill="#000">25°C</text>
<text transform="translate(443.60,1498.6) rotate(-35.5)" font-family="'Liberation Sans', sans-serif" font-size="24.2" font-weight="bold" text-anchor="end" fill="#000">25°C 1h</text>
<text transform="translate(512.20,1498.6) rotate(-35.5)" font-family="'Liberation Sans', sans-serif" font-size="24.2" font-weight="bold" text-anchor="end" fill="#000">30°C rewarm</text>
<text transform="translate(580.80,1498.6) rotate(-35.5)" font-family="'Liberation Sans', sans-serif" font-size="24.2" font-weight="bold" text-anchor="end" fill="#000">34°C rewarm</text>
<text transform="translate(649.40,1498.6) rotate(-35.5)" font-family="'Liberation Sans', sans-serif" font-size="24.2" font-weight="bold" text-anchor="end" fill="#000">After rewarming</text>
</svg>
</body>
</html>
